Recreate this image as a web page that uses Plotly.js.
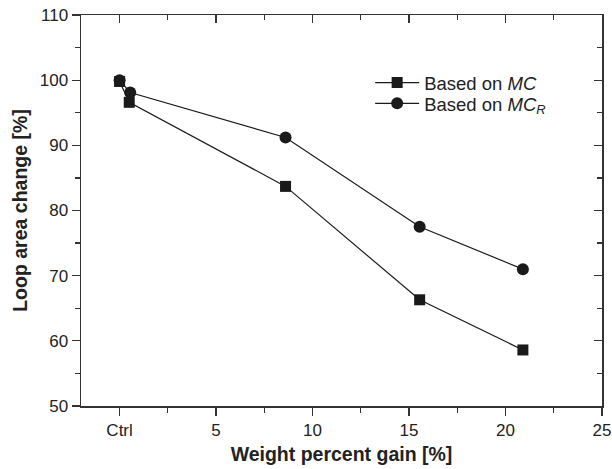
<!DOCTYPE html>
<html>
<head>
<meta charset="utf-8">
<script src="https://cdn.plot.ly/plotly-3.0.1.min.js"></script>
<style>html,body{margin:0;padding:0;background:#fff;}#chart{width:612px;height:469px;}</style>
</head>
<body>
<div id="chart"></div>
<script>
// Data
const mcX = [0, 0.5, 8.6, 15.55, 20.9];
const mcY = [99.8, 96.6, 83.7, 66.3, 58.6];
const mcrX = [0, 0.55, 8.6, 15.55, 20.9];
const mcrY = [100.0, 98.1, 91.2, 77.5, 71.0];
const xTickVals = [0, 5, 10, 15, 20, 25];
const xTickText = ['Ctrl', '5', '10', '15', '20', '25'];
const xMinorVals = [2.5, 7.5, 12.5, 17.5, 22.5];
const seriesNames = ['Based on <i>MC</i>', 'Based on <i>MC<sub>R</sub></i>'];

const ink = '#1a1a1a';
const fam = 'Liberation Sans, Arial, sans-serif';
const font = {family: fam, size: 17, color: '#222'};
const legFont = {family: fam, size: 18.5, color: '#222'};

const traces = [
  {x: mcX, y: mcY, name: seriesNames[0], legend: 'legend', mode: 'lines+markers', type: 'scatter',
   line: {color: ink, width: 1.2},
   marker: {symbol: 'square', size: 11, color: ink}},
  {x: mcrX, y: mcrY, name: seriesNames[1], legend: 'legend2', mode: 'lines+markers', type: 'scatter',
   line: {color: ink, width: 1.2},
   marker: {symbol: 'circle', size: 12, color: ink}},
  {x: [null], y: [null], xaxis: 'x2', yaxis: 'y2', showlegend: false, hoverinfo: 'skip', type: 'scatter', mode: 'markers'}
];

const xr = [-2, 25], yr = [50, 110];
const axLine = {showline: true, linecolor: '#333', linewidth: 1.5, zeroline: false, showgrid: false};

const layout = {
  width: 612, height: 469,
  margin: {l: 81, r: 10, t: 15, b: 63},
  paper_bgcolor: '#fff', plot_bgcolor: '#fff',
  font: font,
  showlegend: true,
  legend: {x: 0.555, y: 0.826, xanchor: 'left', yanchor: 'middle', bgcolor: 'rgba(0,0,0,0)',
           font: legFont, itemwidth: 44},
  legend2: {x: 0.555, y: 0.773, xanchor: 'left', yanchor: 'middle', bgcolor: 'rgba(0,0,0,0)',
           font: legFont, itemwidth: 44},
  xaxis: Object.assign({}, axLine, {
    range: xr, tickmode: 'array', tickvals: xTickVals, ticktext: xTickText,
    ticks: 'outside', ticklen: 8, tickwidth: 1.3, tickcolor: '#333',
    minor: {tickmode: 'array', tickvals: xMinorVals, ticks: 'outside', ticklen: 5, tickwidth: 1.2, tickcolor: '#333'},
    tickfont: font,
    title: {text: '<b>Weight percent gain [%]</b>', font: {family: fam, size: 19.5, color: '#222'}, standoff: 8}
  }),
  yaxis: Object.assign({}, axLine, {
    range: yr, tickmode: 'linear', tick0: 50, dtick: 10,
    ticks: 'outside', ticklen: 8, tickwidth: 1.3, tickcolor: '#333',
    minor: {tickmode: 'linear', tick0: 55, dtick: 10, ticks: 'outside', ticklen: 5, tickwidth: 1.2, tickcolor: '#333'},
    tickfont: font,
    title: {text: '<b>Loop area change [%]</b>', font: {family: fam, size: 19.5, color: '#222'}, standoff: 7}
  }),
  xaxis2: Object.assign({}, axLine, {
    overlaying: 'x', side: 'top', range: xr, tickmode: 'array', tickvals: xTickVals,
    showticklabels: false, ticks: 'inside', ticklen: 8, tickwidth: 1.3, tickcolor: '#333',
    minor: {tickmode: 'array', tickvals: xMinorVals, ticks: 'inside', ticklen: 5, tickwidth: 1.2, tickcolor: '#333'}
  }),
  yaxis2: Object.assign({}, axLine, {
    overlaying: 'y', side: 'right', range: yr, tickmode: 'linear', tick0: 50, dtick: 10,
    showticklabels: false, ticks: 'inside', ticklen: 8, tickwidth: 1.3, tickcolor: '#333',
    minor: {tickmode: 'linear', tick0: 55, dtick: 10, ticks: 'inside', ticklen: 5, tickwidth: 1.2, tickcolor: '#333'}
  })
};

Plotly.newPlot('chart', traces, layout, {displayModeBar: false, staticPlot: true});
</script>
</body>
</html>
